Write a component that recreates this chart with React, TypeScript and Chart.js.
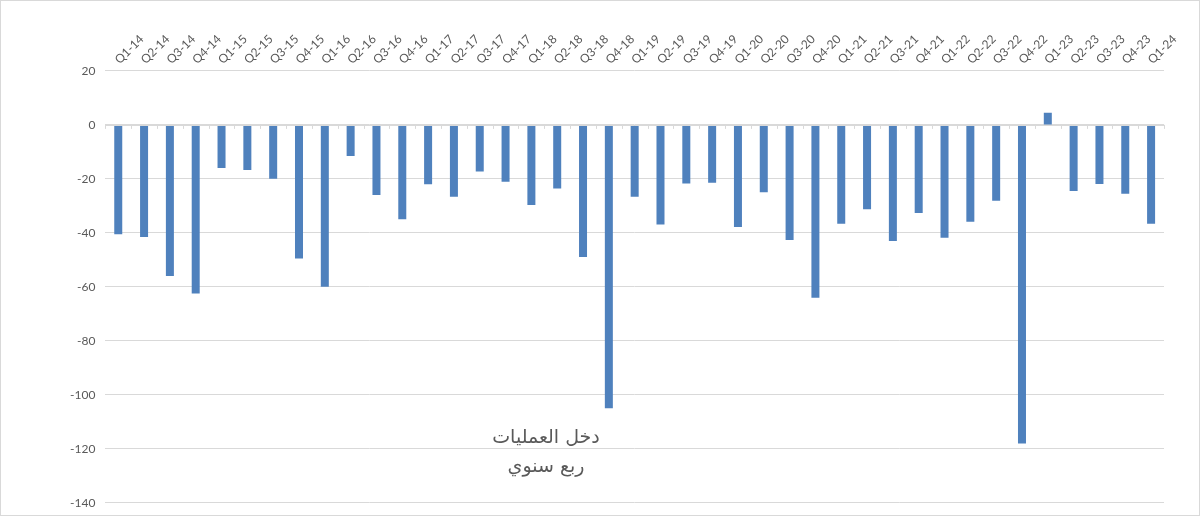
import React, { useEffect, useRef } from "react";
import { Chart, registerables } from "chart.js";

Chart.register(...registerables);

const categories = [
  "Q1-14", "Q2-14", "Q3-14", "Q4-14",
  "Q1-15", "Q2-15", "Q3-15", "Q4-15",
  "Q1-16", "Q2-16", "Q3-16", "Q4-16",
  "Q1-17", "Q2-17", "Q3-17", "Q4-17",
  "Q1-18", "Q2-18", "Q3-18", "Q4-18",
  "Q1-19", "Q2-19", "Q3-19", "Q4-19",
  "Q1-20", "Q2-20", "Q3-20", "Q4-20",
  "Q1-21", "Q2-21", "Q3-21", "Q4-21",
  "Q1-22", "Q2-22", "Q3-22", "Q4-22",
  "Q1-23", "Q2-23", "Q3-23", "Q4-23",
  "Q1-24",
];

const operatingIncome = [
  -40.5, -41.5, -56, -62.5,
  -16, -16.7, -20, -49.5,
  -60, -11.5, -26, -35,
  -22, -26.6, -17.3, -21.1,
  -29.7, -23.6, -48.9, -105,
  -26.6, -36.9, -21.7, -21.4,
  -37.8, -25, -42.6, -64,
  -36.6, -31.3, -43, -32.6,
  -41.8, -35.9, -28.1, -118,
  4.5, -24.5, -21.9, -25.5,
  -36.6,
];

const titleLines = ["دخل العمليات", "ربع سنوي"];

const Y_MIN = -140;
const Y_MAX = 20;
const Y_STEP = 20;

const textColor = "#595959";
const gridColor = "#d9d9d9";
const fontFamily = "Lato, 'Open Sans', 'DejaVu Sans', sans-serif";

const zeroTicksPlugin = {
  id: "zeroTicks",
  afterDatasetsDraw(chart: any) {
    const x = chart.scales.x;
    const y = chart.scales.y;
    const ctx = chart.ctx;
    const y0 = y.getPixelForValue(0);
    const n = chart.data.labels.length;
    const step = (x.right - x.left) / n;
    ctx.save();
    ctx.strokeStyle = gridColor;
    ctx.lineWidth = 1;
    ctx.beginPath();
    for (let i = 0; i <= n; i++) {
      const px = Math.round(x.left + i * step) + 0.5;
      ctx.moveTo(px, y0);
      ctx.lineTo(px, y0 + 4);
    }
    ctx.moveTo(x.left, Math.round(y0) + 0.5);
    ctx.lineTo(x.right, Math.round(y0) + 0.5);
    ctx.stroke();
    ctx.restore();
  },
};

export default function App() {
  const canvasRef = useRef<HTMLCanvasElement | null>(null);

  useEffect(() => {
    if (!canvasRef.current) return;
    const chart = new Chart(canvasRef.current, {
      type: "bar",
      data: {
        labels: categories,
        datasets: [
          {
            label: titleLines.join(" "),
            data: operatingIncome,
            backgroundColor: "#4f81bd",
            borderWidth: 0,
            categoryPercentage: 1,
            barPercentage: 0.31,
          },
        ],
      },
      options: {
        animation: false,
        responsive: false,
        maintainAspectRatio: false,
        layout: { padding: { left: 59, right: 35, top: 27, bottom: 1 } },
        plugins: {
          legend: { display: false },
          tooltip: { enabled: false },
          title: { display: false },
        },
        scales: {
          x: {
            position: "top",
            offset: true,
            grid: { display: false, drawTicks: false },
            border: { display: false },
            ticks: {
              color: textColor,
              font: { family: fontFamily, size: 12 },
              minRotation: 45,
              maxRotation: 45,
              autoSkip: false,
              padding: 4,
              labelOffset: 9,
            },
          },
          y: {
            min: Y_MIN,
            max: Y_MAX,
            grid: { color: gridColor, drawTicks: false, lineWidth: 1 },
            border: { display: false },
            ticks: {
              stepSize: Y_STEP,
              color: textColor,
              font: { family: fontFamily, size: 12 },
              padding: 10,
            },
          },
        },
      },
      plugins: [zeroTicksPlugin],
    });
    return () => chart.destroy();
  }, []);

  return (
    <div
      style={{
        position: "fixed",
        left: 0,
        top: 0,
        width: 1200,
        height: 516,
        background: "#ffffff",
        boxSizing: "border-box",
        border: "1px solid #d9d9d9",
        overflow: "hidden",
      }}
    >
      <canvas
        ref={canvasRef}
        width={1198}
        height={519}
        style={{ display: "block", width: 1198, height: 519 }}
      />
      <div
        dir="rtl"
        style={{
          position: "absolute",
          left: 445,
          top: 421,
          width: 200,
          textAlign: "center",
          color: textColor,
          fontFamily: "'DejaVu Sans', 'Noto Sans', sans-serif",
          fontSize: 19,
          lineHeight: "29px",
        }}
      >
        <div>{titleLines[0]}</div>
        <div>{titleLines[1]}</div>
      </div>
    </div>
  );
}
